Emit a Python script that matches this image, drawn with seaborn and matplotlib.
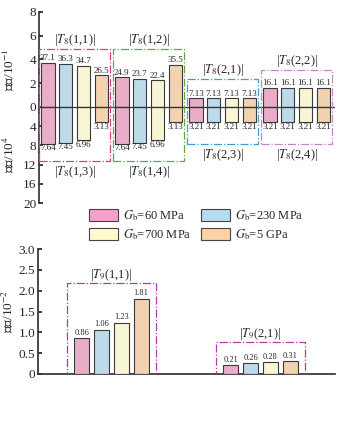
import pandas as pd
import numpy as np
import matplotlib
matplotlib.use('Agg')
import matplotlib.pyplot as plt
import seaborn as sns
from matplotlib.patches import Rectangle, Patch

# dados
gb_labels = [r'$G_{\mathrm{b}}$=60 MPa', r'$G_{\mathrm{b}}$=230 MPa',
             r'$G_{\mathrm{b}}$=700 MPa', r'$G_{\mathrm{b}}$=5 GPa']
t8_upper_names = ['|$T_8$(1,1)|', '|$T_8$(1,2)|', '|$T_8$(2,1)|', '|$T_8$(2,2)|']
t8_lower_names = ['|$T_8$(1,3)|', '|$T_8$(1,4)|', '|$T_8$(2,3)|', '|$T_8$(2,4)|']
# valores superiores (rótulos, eixo em 10^-1 -> valor/10)
t8_upper = [[37.1, 36.3, 34.7, 26.5],
            [24.9, 23.7, 22.4, 35.5],
            [7.13, 7.13, 7.13, 7.13],
            [16.1, 16.1, 16.1, 16.1]]
# valores inferiores (eixo em 10^4, invertido)
t8_lower = [[7.64, 7.45, 6.96, 3.13],
            [7.64, 7.45, 6.96, 3.13],
            [3.21, 3.21, 3.21, 3.21],
            [3.21, 3.21, 3.21, 3.21]]
t9_names = ['|$T_9$(1,1)|', '|$T_9$(2,1)|']
t9_values = [[0.86, 1.06, 1.23, 1.81],
             [0.21, 0.26, 0.28, 0.31]]

upper_ticks = [0, 2, 4, 6, 8]
lower_ticks = [4, 8, 12, 16, 20]
t9_ticks = [0, 0.5, 1.0, 1.5, 2.0, 2.5, 3.0]

colors = ['#f3a3c7', '#b6dcf0', '#fffbcf', '#fdd2a4']
edge = '#3a3a3a'
box_colors8 = ['#d8407f', '#5faa3f', '#3d9fd6', '#c585c0']
box_color9 = '#b03aa8'

sns.set_theme(style='white')
plt.rcParams['font.family'] = ['Liberation Serif', 'Noto Sans CJK SC']
plt.rcParams['mathtext.fontset'] = 'stix'

s = 0.405  # escala da parte inferior em relação à superior

rows = []
for g in range(4):
    for h in range(4):
        rows.append({'grupo': g, 'Gb': gb_labels[h],
                     'up': t8_upper[g][h] / 10, 'down': -t8_lower[g][h] * s})
df8 = pd.DataFrame(rows)

rows = []
for g in range(2):
    for h in range(4):
        rows.append({'grupo': g, 'Gb': gb_labels[h], 'val': t9_values[g][h]})
df9 = pd.DataFrame(rows)

fig = plt.figure(figsize=(3.5, 4.28), dpi=100)

# ---------- gráfico superior ----------
ax1 = fig.add_axes([39/350, 1-203/428, 296/350, 191/428])
sns.barplot(data=df8, x='grupo', y='up', hue='Gb', palette=colors, width=0.96, gap=0.25,
            edgecolor=edge, linewidth=0.8, legend=False, ax=ax1, zorder=3)
sns.barplot(data=df8, x='grupo', y='down', hue='Gb', palette=colors, width=0.96, gap=0.25,
            edgecolor=edge, linewidth=0.8, legend=False, ax=ax1, zorder=3)

for h in range(4):
    ax1.bar_label(ax1.containers[h], labels=[f'{t8_upper[g][h]:g}' for g in range(4)],
                  padding=0.5, fontsize=6.5)
    ax1.bar_label(ax1.containers[h + 4], labels=[f'{t8_lower[g][h]:g}' for g in range(4)],
                  padding=0.5, fontsize=6.5)

ax1.axhline(0, color='#333333', lw=0.9, zorder=5)
ax1.set_xlim(-0.48, 3.52)
ax1.set_ylim(-20 * s, 8)
ax1.set_yticks(upper_ticks + [-t * s for t in lower_ticks])
ax1.set_yticklabels([str(t) for t in upper_ticks] + [str(t) for t in lower_ticks])
ax1.set_xticks([])
ax1.set_xlabel('')
ax1.set_ylabel('')
for sp in ['top', 'right', 'bottom']:
    ax1.spines[sp].set_visible(False)
ax1.spines['left'].set_color('#333333')
ax1.tick_params(axis='y', direction='in', length=3, labelsize=9.5, pad=2, left=True)

box_top = [4.89, 4.89, 2.36, 3.12]
box_bot = [-4.56, -4.56, -3.12, -3.12]
for g in range(4):
    ax1.add_patch(Rectangle((g - 0.48, box_bot[g]), 0.96, box_top[g] - box_bot[g],
                            fill=False, edgecolor=box_colors8[g], linestyle='-.',
                            lw=0.9, zorder=6, clip_on=False))
    ax1.text(g, box_top[g] + 0.75, t8_upper_names[g], ha='center', va='center', fontsize=9)
    ax1.text(g, box_bot[g] - 0.92, t8_lower_names[g], ha='center', va='center', fontsize=9)

fig.text(9/350, 1-70/428, '幅值/10$^{-1}$', rotation=90, ha='center', va='center', fontsize=9.5)
fig.text(9/350, 1-155/428, '幅值/10$^{4}$', rotation=90, ha='center', va='center', fontsize=9.5)

# ---------- legenda (linhas: 60/230, 700/5 GPa) ----------
order = [0, 2, 1, 3]
handles = [Patch(facecolor=colors[i], edgecolor='#444444', lw=0.8) for i in order]
fig.legend(handles, [gb_labels[i] for i in order], ncol=2, loc='center',
           bbox_to_anchor=(0.56, 1-225/428),
           frameon=False, fontsize=9, handlelength=2.3, handleheight=1.1,
           handletextpad=0.4, columnspacing=0.8, labelspacing=0.35)

# ---------- gráfico inferior ----------
ax2 = fig.add_axes([38/350, 1-374/428, 297/350, 125/428])
sns.barplot(data=df9, x='grupo', y='val', hue='Gb', palette=colors, width=0.53, gap=0.24,
            edgecolor=edge, linewidth=0.8, legend=False, ax=ax2, zorder=3)
for h in range(4):
    ax2.bar_label(ax2.containers[h], labels=[f'{t9_values[g][h]:.2f}' for g in range(2)],
                  padding=1, fontsize=6)

ax2.set_xlim(-0.493, 1.5)
ax2.set_ylim(0, 3)
ax2.set_yticks(t9_ticks)
ax2.set_yticklabels(['0'] + [f'{t:.1f}' for t in t9_ticks[1:]])
ax2.set_xticks([])
ax2.set_xlabel('')
ax2.set_ylabel('')
for sp in ['top', 'right']:
    ax2.spines[sp].set_visible(False)
ax2.spines['left'].set_color('#333333')
ax2.spines['bottom'].set_color('#333333')
ax2.tick_params(axis='y', direction='in', length=3, labelsize=9.5, pad=2, left=True)

box9_top = [2.18, 0.77]
for g in range(2):
    ax2.add_patch(Rectangle((g - 0.3, 0), 0.6, box9_top[g], fill=False,
                            edgecolor=box_color9, linestyle='-.', lw=0.9, zorder=6))
    ax2.text(g, box9_top[g] + 0.2, t9_names[g], ha='center', va='center', fontsize=9)

fig.text(8/350, 1-311/428, '幅值/10$^{-2}$', rotation=90, ha='center', va='center', fontsize=9.5)

plt.savefig('out.png', dpi=100)
